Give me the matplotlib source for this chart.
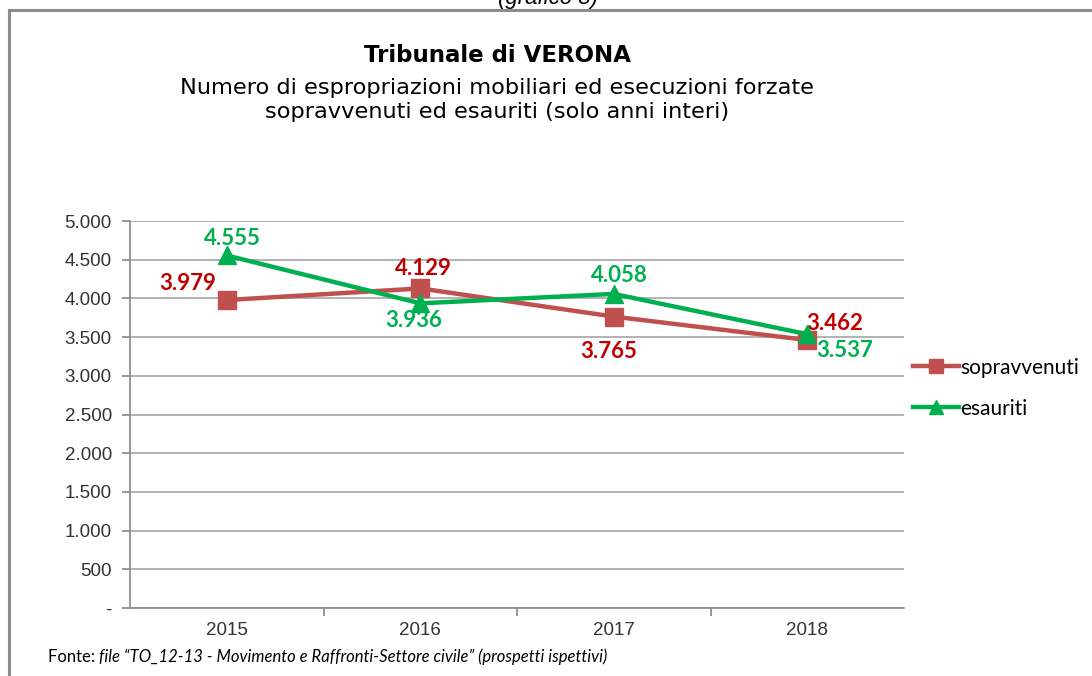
import matplotlib
matplotlib.use('Agg')
import matplotlib.pyplot as plt
import numpy as np
from matplotlib.patches import Rectangle
from matplotlib.ticker import FuncFormatter, MultipleLocator

anni = ['2015', '2016', '2017', '2018']
sopravvenuti = [3979, 4129, 3765, 3462]
esauriti = [4555, 3936, 4058, 3537]

# label offsets in points (dx, dy)
off_sop = [(-28, 12), (2, 14), (-4, -25), (20, 12)]
off_esa = [(4, 12), (-5, -12), (4, 13), (27, -12)]

red_line = '#C0504D'
red_lab = '#C00000'
green = '#00B050'


def fmt(v, pos=None):
    if v == 0:
        return '-'
    return f'{int(v):,}'.replace(',', '.')


fig = plt.figure(figsize=(10.92, 6.76), dpi=100)
ax = fig.add_axes([130 / 1092, 1 - 608 / 676, 774 / 1092, 387 / 676])

x = np.arange(len(anni))
ax.plot(x, sopravvenuti, color=red_line, lw=3.2, marker='s', ms=13,
        mfc=red_line, mec=red_line, label='sopravvenuti', zorder=3)
ax.plot(x, esauriti, color=green, lw=3.2, marker='^', ms=13,
        mfc=green, mec=green, label='esauriti', zorder=4)

for i, v in enumerate(sopravvenuti):
    ax.annotate(fmt(v), (x[i], v), xytext=off_sop[i], textcoords='offset points',
                ha='center', va='center', color=red_lab, fontsize=16,
                fontweight='bold', family='Lato')
for i, v in enumerate(esauriti):
    ax.annotate(fmt(v), (x[i], v), xytext=off_esa[i], textcoords='offset points',
                ha='center', va='center', color=green, fontsize=16,
                fontweight='bold', family='Lato')

ax.set_xlim(-0.5, 3.5)
ax.set_ylim(0, 5000)
ax.yaxis.set_major_locator(MultipleLocator(500))
ax.yaxis.set_major_formatter(FuncFormatter(fmt))
ax.grid(axis='y', color='#A6A6A6', lw=1.2)
ax.set_axisbelow(True)
for s in ['top', 'right']:
    ax.spines[s].set_visible(False)
for s in ['left', 'bottom']:
    ax.spines[s].set_color('#888888')
    ax.spines[s].set_linewidth(1.2)

ax.set_xticks(x)
ax.set_xticklabels(anni, family='Liberation Sans', fontsize=13.5, color='#333333')
ax.tick_params(axis='x', length=0, pad=10)
ax.set_xticks(np.arange(0.5, 3, 1), minor=True)
ax.tick_params(axis='x', which='minor', length=6, color='#888888', width=1.2)
ax.tick_params(axis='y', length=6, color='#888888', width=1.2, labelsize=13.5,
               labelcolor='#333333', pad=7)
for t in ax.get_yticklabels():
    t.set_family('Liberation Sans')

leg = ax.legend(loc='upper left', bbox_to_anchor=(0.987, 0.695), frameon=False,
                prop={'family': 'Lato', 'size': 15}, handlelength=2.2,
                handletextpad=0.1, labelspacing=1.0, borderaxespad=0.5,
                markerscale=0.8)

fig.text(497 / 1092, 1 - 55 / 676, 'Tribunale di VERONA', ha='center', va='center',
         fontsize=16.5, fontweight='bold')
fig.text(497 / 1092, 1 - 100 / 676,
         'Numero di espropriazioni mobiliari ed esecuzioni forzate\n'
         'sopravvenuti ed esauriti (solo anni interi)',
         ha='center', va='center', fontsize=16.2, linespacing=1.25)

fig.text(548 / 1092, 1 - 4 / 676, '(grafico 8)', ha='center', va='baseline',
         fontsize=16, style='italic', family='Liberation Sans')

fig.text(48 / 1092, 1 - 657 / 676, 'Fonte: ', ha='left', va='center',
         fontsize=12, family='Lato')
fig.text(99 / 1092, 1 - 657 / 676,
         'file \u201cTO_12-13 - Movimento e Raffronti-Settore civile\u201d (prospetti ispettivi)',
         ha='left', va='center', fontsize=12, family='Lato', style='italic')

fig.patches.append(Rectangle((9 / 1092, -0.1), 1.2, 1.1 - 10 / 676,
                             transform=fig.transFigure, fill=False,
                             edgecolor='#8C8C8C', lw=2.2))

fig.savefig('out.png', dpi=100)
